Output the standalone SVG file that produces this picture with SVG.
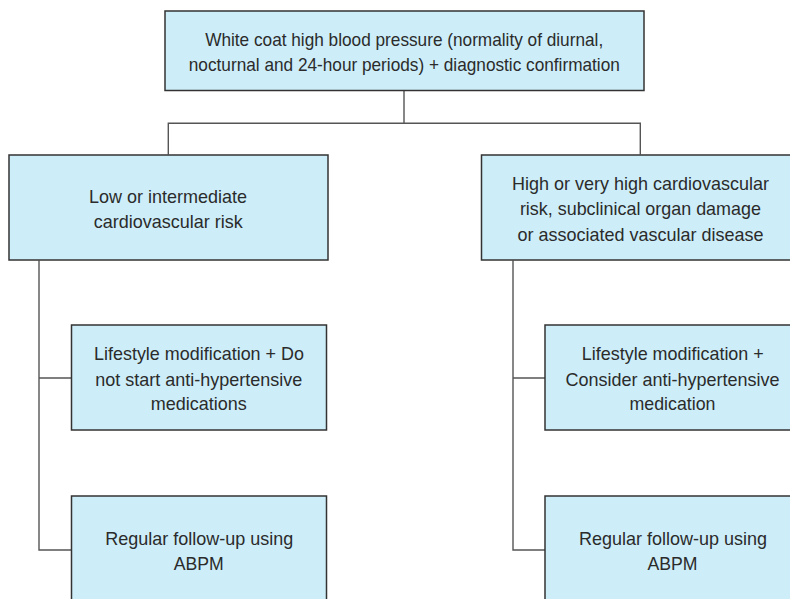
<svg xmlns="http://www.w3.org/2000/svg" width="790" height="599" viewBox="0 0 790 599">
<style>
.box{fill:#cdeef9;stroke:#333333;stroke-width:1.5}
.lbl{font-family:"Liberation Sans",Arial,sans-serif;font-size:19px;fill:#2b2b2b;text-anchor:middle}
.con{fill:none;stroke:#555555;stroke-width:1.4}
</style>
<rect width="790" height="599" fill="#ffffff"/>
<g id="connectors">
<path class="con" d="M404,90.5 V123.3 M168.3,154.5 V123.3 H640.3 V154.5"/>
<path class="con" d="M39,260.5 V550 H71.5 M39,378 H71.5"/>
<path class="con" d="M513,260.5 V550 H545 M513,378 H545"/>
</g>
<g id="n-top">
<rect class="box" x="165" y="11" width="479" height="79.5"/>
<text class="lbl" x="404.2" y="45.5" textLength="398" lengthAdjust="spacingAndGlyphs">White coat high blood pressure (normality of diurnal,</text>
<text class="lbl" x="404.3" y="70.5" textLength="431" lengthAdjust="spacingAndGlyphs">nocturnal and 24-hour periods) + diagnostic confirmation</text>
</g>
<g id="n-low">
<rect class="box" x="9" y="155" width="319" height="105"/>
<text class="lbl" x="168" y="203" textLength="158" lengthAdjust="spacingAndGlyphs">Low or intermediate</text>
<text class="lbl" x="168.3" y="227.5" textLength="149" lengthAdjust="spacingAndGlyphs">cardiovascular risk</text>
</g>
<g id="n-high">
<rect class="box" x="481.5" y="155" width="319" height="105"/>
<text class="lbl" x="640.6" y="190" textLength="257" lengthAdjust="spacingAndGlyphs">High or very high cardiovascular</text>
<text class="lbl" x="640.4" y="215" textLength="241" lengthAdjust="spacingAndGlyphs">risk, subclinical organ damage</text>
<text class="lbl" x="640.5" y="240.5" textLength="246" lengthAdjust="spacingAndGlyphs">or associated vascular disease</text>
</g>
<g id="n-life-left">
<rect class="box" x="71.5" y="325" width="255" height="105"/>
<text class="lbl" x="199" y="360" textLength="210" lengthAdjust="spacingAndGlyphs">Lifestyle modification + Do</text>
<text class="lbl" x="198.8" y="385.5" textLength="207" lengthAdjust="spacingAndGlyphs">not start anti-hypertensive</text>
<text class="lbl" x="198.8" y="410" textLength="96" lengthAdjust="spacingAndGlyphs">medications</text>
</g>
<g id="n-follow-left">
<rect class="box" x="71.5" y="496" width="255" height="110"/>
<text class="lbl" x="199.3" y="545" textLength="188" lengthAdjust="spacingAndGlyphs">Regular follow-up using</text>
<text class="lbl" x="198.8" y="569.5" textLength="50" lengthAdjust="spacingAndGlyphs">ABPM</text>
</g>
<g id="n-life-right">
<rect class="box" x="545" y="325" width="256" height="105"/>
<text class="lbl" x="672.8" y="360" textLength="182" lengthAdjust="spacingAndGlyphs">Lifestyle modification +</text>
<text class="lbl" x="672.5" y="385.5" textLength="214" lengthAdjust="spacingAndGlyphs">Consider anti-hypertensive</text>
<text class="lbl" x="672.5" y="410" textLength="86" lengthAdjust="spacingAndGlyphs">medication</text>
</g>
<g id="n-follow-right">
<rect class="box" x="545" y="496" width="256" height="110"/>
<text class="lbl" x="673" y="545" textLength="188" lengthAdjust="spacingAndGlyphs">Regular follow-up using</text>
<text class="lbl" x="672.5" y="569.5" textLength="50" lengthAdjust="spacingAndGlyphs">ABPM</text>
</g>
</svg>
